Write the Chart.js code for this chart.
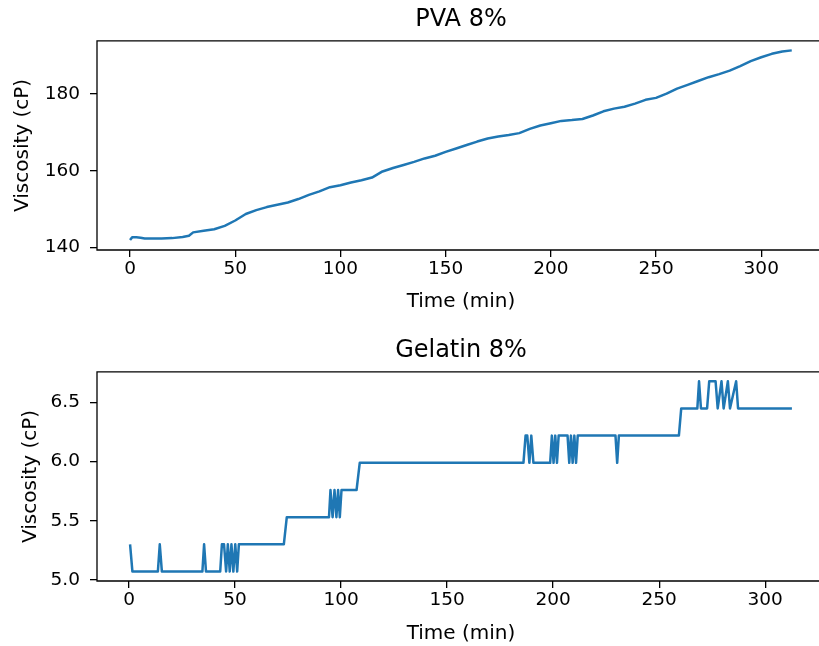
<!DOCTYPE html>
<html><head><meta charset="utf-8">
<script src="https://cdn.jsdelivr.net/npm/chart.js@4"></script>
<style>
html,body{margin:0;padding:0;background:#fff;overflow:hidden;width:819px;height:646px;}
#wrap{position:relative;width:819px;height:646px;overflow:hidden;background:#fff;}
canvas{position:absolute;left:0;}
</style></head><body>
<div id="wrap">
<canvas id="c1" width="840" height="331" style="top:0px"></canvas>
<canvas id="c2" width="840" height="331" style="top:331px"></canvas>
</div>
<script>
// ---- data ----
const pvaTime = [0,1,3,5,7,10,15,20,25,28,30,35,40,45,50,55,60,65,70,75,80,85,90,95,100,105,110,115,120,125,130,135,140,145,150,155,160,165,170,175,180,185,190,195,200,205,210,215,220,225,230,235,240,245,250,255,260,265,270,275,280,285,290,295,300,305,310,314.5];
const pvaVisc = [141.9,142.6,142.6,142.5,142.3,142.3,142.3,142.4,142.7,143.0,143.9,144.3,144.7,145.6,147.0,148.7,149.7,150.5,151.1,151.7,152.6,153.7,154.6,155.7,156.2,156.9,157.5,158.2,159.8,160.7,161.5,162.3,163.2,163.9,164.9,165.8,166.7,167.6,168.4,168.9,169.3,169.8,170.9,171.8,172.4,173.0,173.2,173.5,174.4,175.5,176.2,176.7,177.5,178.5,179.0,180.1,181.4,182.4,183.4,184.4,185.2,186.1,187.3,188.6,189.6,190.5,191.1,191.4];

const gelTime = [0.5,1.6,13.6,14.5,15.5,34.6,35.4,36.3,43.0,43.8,44.8,45.8,46.6,47.5,48.3,49.2,50.1,51.0,51.8,73.0,74.4,94.3,95.0,96.0,96.9,97.8,98.6,99.4,100.2,107.3,108.8,186.0,187.0,187.8,188.8,189.7,190.7,198.6,199.4,200.2,201.0,201.8,202.6,206.8,207.6,208.4,209.2,210.0,210.8,211.6,229.4,230.2,231.0,259.3,260.4,268.0,268.8,269.7,272.6,273.6,276.6,277.6,279.4,280.4,282.4,283.4,286.3,287.2,312.6];
const gelVisc = [5.30,5.07,5.07,5.30,5.07,5.07,5.30,5.07,5.07,5.30,5.30,5.07,5.30,5.07,5.30,5.07,5.30,5.07,5.30,5.30,5.53,5.53,5.76,5.53,5.76,5.53,5.76,5.53,5.76,5.76,5.99,5.99,6.22,6.22,5.99,6.22,5.99,5.99,6.22,5.99,6.22,5.99,6.22,6.22,5.99,6.22,5.99,6.22,5.99,6.22,6.22,5.99,6.22,6.22,6.45,6.45,6.68,6.45,6.45,6.68,6.68,6.45,6.68,6.45,6.68,6.45,6.68,6.45,6.45];

const xTicks = [0,50,100,150,200,250,300];
const pvaYTicks = [140,160,180];
const gelYTicks = [5.0,5.5,6.0,6.5];

const titles = ['PVA 8%','Gelatin 8%'];
const xLabel = 'Time (min)';
const yLabel = 'Viscosity (cP)';

// ---- drawing ----
const FONT = 'DejaVu Sans';
const spinePlugin = {
  id:'spines',
  afterDatasetsDraw(chart){
    const {ctx, chartArea:a} = chart;
    ctx.save();
    ctx.strokeStyle = '#000';
    ctx.lineWidth = 1.3;
    ctx.beginPath();
    ctx.moveTo(a.right, a.top);
    ctx.lineTo(a.left, a.top);
    ctx.lineTo(a.left, a.bottom);
    ctx.lineTo(a.right, a.bottom);
    ctx.stroke();
    ctx.restore();
  }
};

function makeChart(id, title, xs, ys, xr, yr, yTicks, dec, padLeft, xTitlePad){
  const pts = xs.map((x,i)=>({x:x, y:ys[i]}));
  return new Chart(document.getElementById(id), {
    type:'line',
    data:{datasets:[{data:pts, borderColor:'#1f77b4', borderWidth:2.5, pointRadius:0, tension:0, fill:false,
      borderJoinStyle:'round', borderCapStyle:'butt'}]},
    options:{
      responsive:false, animation:false, devicePixelRatio:1,
      layout:{padding:{left:padLeft, right:15, top:5, bottom:0}},
      plugins:{
        legend:{display:false}, tooltip:{enabled:false},
        title:{display:true, text:title, fullSize:false, color:'#000',
          font:{family:FONT, size:24, weight:'normal'}, padding:{top:0, bottom:7}}
      },
      scales:{
        x:{type:'linear', min:xr[0], max:xr[1],
          afterBuildTicks(s){ s.ticks = xTicks.map(v=>({value:v})); },
          afterFit(s){ s.height = 81; },
          ticks:{color:'#000', font:{family:FONT, size:18.5}, padding:1, maxRotation:0, autoSkip:false,
            callback:(v)=>String(v)},
          grid:{display:true, drawOnChartArea:false, drawTicks:true, tickLength:7, color:'#000', lineWidth:1.3},
          border:{display:false},
          title:{display:true, text:xLabel, color:'#000', font:{family:FONT, size:20}, padding:{top:0, bottom:xTitlePad}}
        },
        y:{type:'linear', min:yr[0], max:yr[1],
          afterBuildTicks(s){ s.ticks = yTicks.map(v=>({value:v})); },
          afterFit(s){ s.width = 97 - padLeft; },
          ticks:{color:'#000', font:{family:FONT, size:18.5}, padding:10, autoSkip:false,
            callback:(v)=>Number(v).toFixed(dec)},
          grid:{display:true, drawOnChartArea:false, drawTicks:true, tickLength:7, color:'#000', lineWidth:1.3},
          border:{display:false},
          title:{display:true, text:yLabel, color:'#000', font:{family:FONT, size:20}, padding:{top:0, bottom:0}}
        }
      }
    },
    plugins:[spinePlugin]
  });
}

makeChart('c1', titles[0], pvaTime, pvaVisc, [-15.7, 330.3], [139.3, 193.9], pvaYTicks, 0, 11, 17);
makeChart('c2', titles[1], gelTime, gelVisc, [-15.1, 328.2], [4.99, 6.76], gelYTicks, 1, 19, 16);
</script>
</body></html>
